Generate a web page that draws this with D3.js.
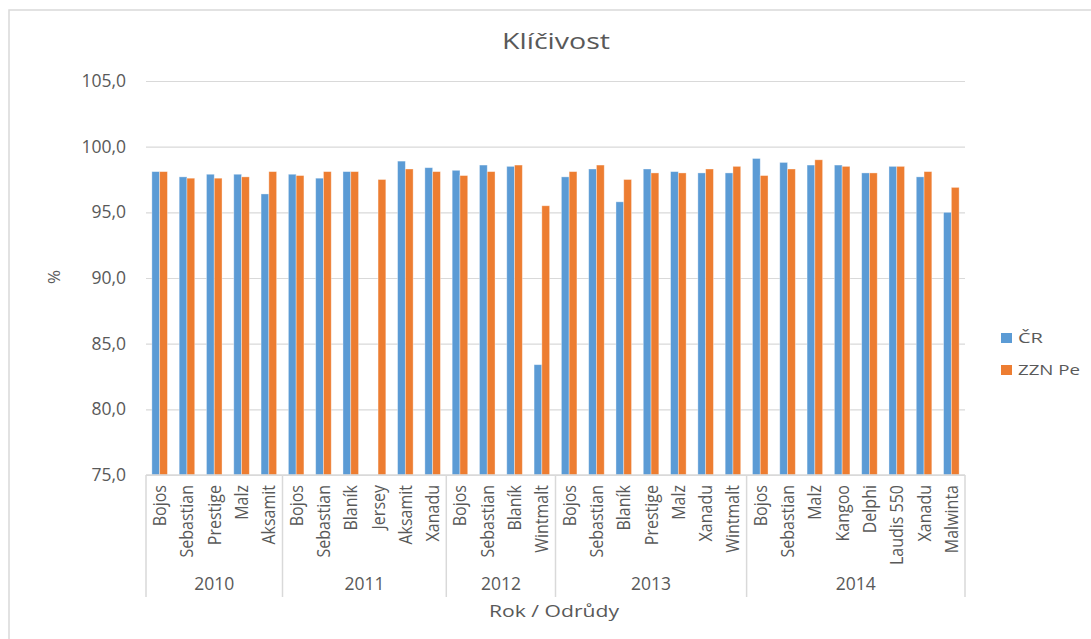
<!DOCTYPE html>
<html>
<head>
<meta charset="utf-8">
<script src="https://cdn.jsdelivr.net/npm/d3@7"></script>
<style>
  body { margin: 0; background: #fff; }
  svg { display: block; font-family: "Open Sans", sans-serif; }
</style>
</head>
<body>
<svg id="chart" width="1091" height="639"></svg>
<script>
// data
var years = ["2010", "2011", "2012", "2013", "2014"];
var yearSizes = [5, 6, 4, 7, 8];
var varieties = [
  "Bojos", "Sebastian", "Prestige", "Malz", "Aksamit",
  "Bojos", "Sebastian", "Blaník", "Jersey", "Aksamit", "Xanadu",
  "Bojos", "Sebastian", "Blaník", "Wintmalt",
  "Bojos", "Sebastian", "Blaník", "Prestige", "Malz", "Xanadu", "Wintmalt",
  "Bojos", "Sebastian", "Malz", "Kangoo", "Delphi", "Laudis 550", "Xanadu", "Malwinta"
];
var cr = [
  98.1, 97.7, 97.9, 97.9, 96.4,
  97.9, 97.6, 98.1, null, 98.9, 98.4,
  98.2, 98.6, 98.5, 83.4,
  97.7, 98.3, 95.8, 98.3, 98.1, 98.0, 98.0,
  99.1, 98.8, 98.6, 98.6, 98.0, 98.5, 97.7, 95.0
];
var zzn = [
  98.1, 97.6, 97.6, 97.7, 98.1,
  97.8, 98.1, 98.1, 97.5, 98.3, 98.1,
  97.8, 98.1, 98.6, 95.5,
  98.1, 98.6, 97.5, 98.0, 98.0, 98.3, 98.5,
  97.8, 98.3, 99.0, 98.5, 98.0, 98.5, 98.1, 96.9
];
var seriesNames = ["ČR", "ZZN Pe"];
var yTicks = [75, 80, 85, 90, 95, 100, 105];

var colors = ["#5B9BD5", "#ED7D31"];
var textColor = "#595959", gridColor = "#D9D9D9";

var svg = d3.select("#chart");

// frame
svg.append("path")
    .attr("d", "M9,639 L9,10 L1091,10")
    .attr("fill", "none")
    .attr("stroke", gridColor)
    .attr("stroke-width", 1.5);

var plotLeft = 146, plotRight = 965, plotTop = 81, plotBottom = 475;

var idx = d3.range(varieties.length);
var x = d3.scaleBand().domain(idx).range([plotLeft, plotRight]).paddingInner(0.43).paddingOuter(0.215);
var xs = d3.scaleBand().domain([0, 1]).range([0, x.bandwidth()]);
var y = d3.scaleLinear().domain([75, 105]).range([plotBottom, plotTop]);

// title
svg.append("text")
    .attr("x", 556).attr("y", 49)
    .attr("text-anchor", "middle")
    .attr("font-size", 22)
    .attr("fill", textColor)
    .attr("textLength", 108).attr("lengthAdjust", "spacingAndGlyphs")
    .text("Klíčivost");

// gridlines + y labels
var yAxis = d3.axisLeft(y).tickValues(yTicks).tickSize(plotLeft - plotRight)
    .tickFormat(function (d) { return d3.format(".1f")(d).replace(".", ","); });
var gy = svg.append("g").attr("transform", "translate(" + plotLeft + ",0)").call(yAxis);
gy.select(".domain").remove();
gy.selectAll(".tick line").attr("stroke", gridColor).attr("stroke-width", 1.2);
gy.selectAll(".tick text")
    .attr("x", -20)
    .attr("fill", textColor)
    .attr("font-size", 17.5)
    .attr("font-family", "Open Sans, sans-serif");

svg.append("text")
    .attr("transform", "translate(54,277) rotate(-90)")
    .attr("text-anchor", "middle")
    .attr("dy", "0.35em")
    .attr("font-size", 17)
    .attr("fill", textColor)
    .text("%");

// bars
var series = [cr, zzn];
series.forEach(function (vals, s) {
  svg.append("g").selectAll("rect")
    .data(idx.filter(function (i) { return vals[i] != null; }))
    .enter().append("rect")
      .attr("x", function (i) { return x(i) + xs(s); })
      .attr("y", function (i) { return y(vals[i]); })
      .attr("width", xs.bandwidth())
      .attr("height", function (i) { return y(75) - y(vals[i]); })
      .attr("fill", colors[s])
      .attr("stroke", "rgba(255,255,255,0.45)")
      .attr("stroke-width", 0.8);
});

// x axis line
svg.append("line")
    .attr("x1", plotLeft).attr("x2", plotRight)
    .attr("y1", plotBottom).attr("y2", plotBottom)
    .attr("stroke", gridColor).attr("stroke-width", 1.5);

// variety labels (a bit stretched across, like the source)
svg.append("g").selectAll("text")
  .data(idx)
  .enter().append("text")
    .attr("transform", function (i) {
      return "translate(" + (x(i) + x.bandwidth() / 2) + "," + (plotBottom + 10) + ") rotate(-90) scale(1,1.15)";
    })
    .attr("text-anchor", "end")
    .attr("dy", "0.35em")
    .attr("font-size", 16)
    .attr("fill", textColor)
    .text(function (i) { return varieties[i]; });

// year groups
var step = x.step();
var start = 0;
var bounds = [plotLeft];
years.forEach(function (yr, k) {
  var x0 = plotLeft + start * step, x1 = plotLeft + (start + yearSizes[k]) * step;
  svg.append("text")
      .attr("x", (x0 + x1) / 2).attr("y", 590)
      .attr("text-anchor", "middle")
      .attr("font-size", 17.5)
      .attr("fill", textColor)
      .text(yr);
  start += yearSizes[k];
  bounds.push(x1);
});
svg.append("g").selectAll("line")
  .data(bounds)
  .enter().append("line")
    .attr("x1", function (d) { return d; }).attr("x2", function (d) { return d; })
    .attr("y1", plotBottom).attr("y2", 597)
    .attr("stroke", gridColor).attr("stroke-width", 1.5);

svg.append("text")
    .attr("x", 554).attr("y", 617)
    .attr("text-anchor", "middle")
    .attr("font-size", 17)
    .attr("fill", textColor)
    .attr("textLength", 130).attr("lengthAdjust", "spacingAndGlyphs")
    .text("Rok / Odrůdy");

// legend
var legend = svg.append("g").selectAll("g")
  .data(seriesNames)
  .enter().append("g")
    .attr("transform", function (d, i) { return "translate(1001," + (333 + i * 32) + ")"; });
legend.append("rect")
    .attr("width", 11).attr("height", 10)
    .attr("fill", function (d, i) { return colors[i]; });
legend.append("text")
    .attr("x", 17).attr("y", 10)
    .attr("font-size", 15)
    .attr("fill", textColor)
    .attr("textLength", function (d, i) { return i ? 62 : 25; })
    .attr("lengthAdjust", "spacingAndGlyphs")
    .text(function (d) { return d; });
</script>
</body>
</html>
